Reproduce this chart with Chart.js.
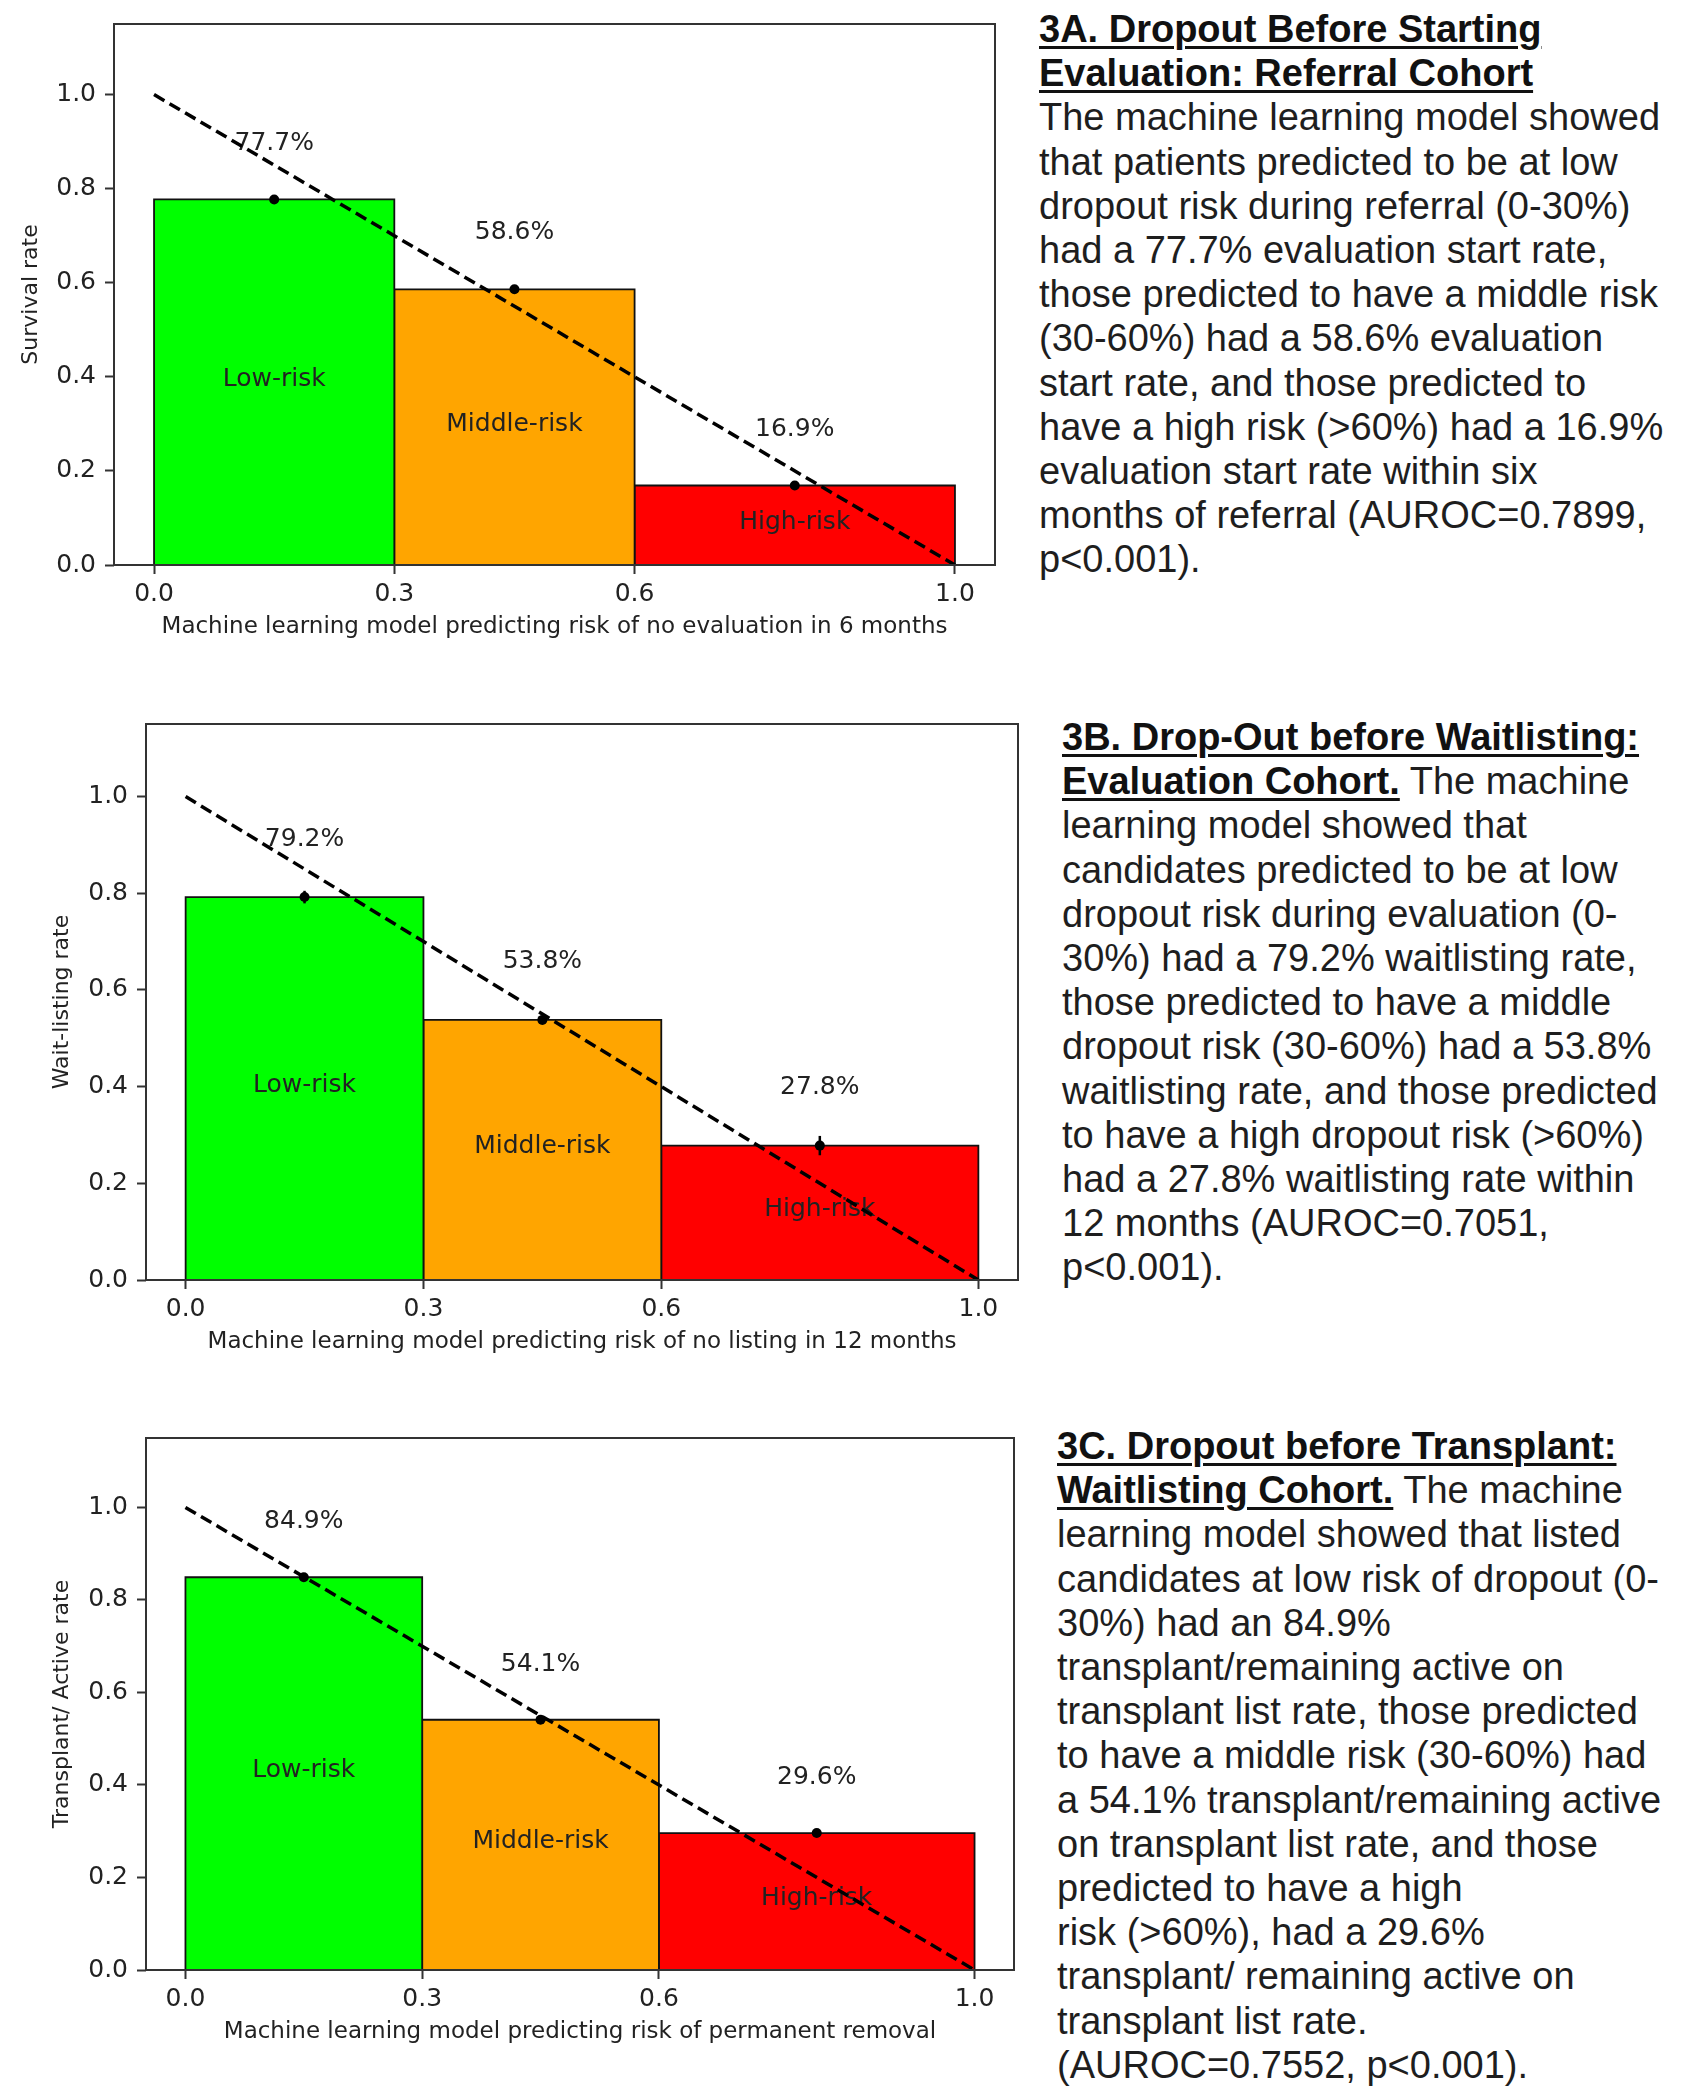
<!DOCTYPE html>
<html>
<head>
<meta charset="utf-8">
<script src="https://cdn.jsdelivr.net/npm/chart.js@4.4.0/dist/chart.umd.min.js"></script>
<style>
  body { margin: 0; background: #fff; width: 1689px; height: 2100px; position: relative; overflow: hidden; }
  .panel { position: absolute; left: 0; }
  .txt { position: absolute; font-family: "Liberation Sans", Arial, sans-serif; font-size: 38px; line-height: 44.2px; color: #1e1e1e; white-space: nowrap; }
  .txt b { font-weight: bold; color: #111; text-decoration: underline; text-decoration-thickness: 3px; text-underline-offset: 4px; }
</style>
</head>
<body>

<div class="panel" style="top:0;width:1020px;height:655px"><canvas id="chartA"></canvas></div>
<div class="panel" style="top:700px;width:1040px;height:670px"><canvas id="chartB"></canvas></div>
<div class="panel" style="top:1410px;width:1040px;height:650px"><canvas id="chartC"></canvas></div>

<div class="txt" style="left:1039px;top:7px">
<b>3A. Dropout Before Starting</b><br>
<b>Evaluation: Referral Cohort</b><br>
The machine learning model showed<br>
that patients predicted to be at low<br>
dropout risk during referral (0-30%)<br>
had a 77.7% evaluation start rate,<br>
those predicted to have a middle risk<br>
(30-60%) had a 58.6% evaluation<br>
start rate, and those predicted to<br>
have a high risk (&gt;60%) had a 16.9%<br>
evaluation start rate within six<br>
months of referral (AUROC=0.7899,<br>
p&lt;0.001).
</div>

<div class="txt" style="left:1062px;top:715px">
<b>3B. Drop-Out before Waitlisting:</b><br>
<b>Evaluation Cohort.</b> The machine<br>
learning model showed that<br>
candidates predicted to be at low<br>
dropout risk during evaluation (0-<br>
30%) had a 79.2% waitlisting rate,<br>
those predicted to have a middle<br>
dropout risk (30-60%) had a 53.8%<br>
waitlisting rate, and those predicted<br>
to have a high dropout risk (&gt;60%)<br>
had a 27.8% waitlisting rate within<br>
12 months (AUROC=0.7051,<br>
p&lt;0.001).
</div>

<div class="txt" style="left:1057px;top:1424px">
<b>3C. Dropout before Transplant:</b><br>
<b>Waitlisting Cohort.</b> The machine<br>
learning model showed that listed<br>
candidates at low risk of dropout (0-<br>
30%) had an 84.9%<br>
transplant/remaining active on<br>
transplant list rate, those predicted<br>
to have a middle risk (30-60%) had<br>
a 54.1% transplant/remaining active<br>
on transplant list rate, and those<br>
predicted to have a high<br>
risk (&gt;60%), had a 29.6%<br>
transplant/ remaining active on<br>
transplant list rate.<br>
(AUROC=0.7552, p&lt;0.001).
</div>

<script>
// --- data ---
const binEdges = [0, 0.3, 0.6, 1.0];
const binCenters = [0.15, 0.45, 0.8];
const riskGroups = ['Low-risk', 'Middle-risk', 'High-risk'];
const groupColors = ['#00ff00', '#ffa500', '#ff0000'];
const xTicks = [0.0, 0.3, 0.6, 1.0];
const yTicks = [0.0, 0.2, 0.4, 0.6, 0.8, 1.0];
const refLine = [{ x: 0, y: 1 }, { x: 1, y: 0 }];

const ratesA = [0.777, 0.586, 0.169];
const errA = [0.006, 0.006, 0.008];
const ratesB = [0.792, 0.538, 0.278];
const errB = [0.013, 0.008, 0.02];
const ratesC = [0.849, 0.541, 0.296];
const errC = [0.006, 0.007, 0.008];

const xTitleA = 'Machine learning model predicting risk of no evaluation in 6 months';
const xTitleB = 'Machine learning model predicting risk of no listing in 12 months';
const xTitleC = 'Machine learning model predicting risk of permanent removal';
const yTitleA = 'Survival rate';
const yTitleB = 'Wait-listing rate';
const yTitleC = 'Transplant/ Active rate';

const FONT = '"DejaVu Sans", sans-serif';
const INK = '#222';

// labels, error bars and frame drawn over the bars
const extrasPlugin = {
    id: 'extras',
    afterDatasetDraw(chart, args) {
        const { ctx, scales: { x, y } } = chart;
        const o = chart.options.plugins.extras;
        if (args.index === 0) {
            ctx.save();
            ctx.fillStyle = INK;
            ctx.font = '25px ' + FONT;
            ctx.textAlign = 'center';
            ctx.textBaseline = 'middle';
            o.rates.forEach((v, i) => {
                const cx = x.getPixelForValue(binCenters[i]);
                ctx.fillText((v * 100).toFixed(1) + '%', cx, y.getPixelForValue(v + 0.12));
                ctx.fillText(riskGroups[i], cx, y.getPixelForValue(v / 2) - 3);
            });
            ctx.restore();
        }
        if (args.index === 3) {
            ctx.save();
            ctx.strokeStyle = '#000';
            ctx.lineWidth = 2.5;
            o.rates.forEach((v, i) => {
                const cx = x.getPixelForValue(binCenters[i]);
                ctx.beginPath();
                ctx.moveTo(cx, y.getPixelForValue(v - o.errs[i]));
                ctx.lineTo(cx, y.getPixelForValue(v + o.errs[i]));
                ctx.stroke();
            });
            ctx.restore();
        }
    },
    afterDatasetsDraw(chart) {
        const { ctx, chartArea: a } = chart;
        ctx.save();
        ctx.strokeStyle = '#333';
        ctx.lineWidth = 2;
        ctx.strokeRect(a.left, a.top, a.right - a.left, a.bottom - a.top);
        ctx.restore();
    }
};

function makeChart(id, rates, errs, xTitle, yTitle, box) {
    const bars = rates.map((v, i) => ({
        data: [
            { x: binEdges[i], y: 0 }, { x: binEdges[i], y: v },
            { x: binEdges[i + 1], y: v }, { x: binEdges[i + 1], y: 0 }
        ],
        borderColor: '#111',
        borderWidth: 1.8,
        backgroundColor: groupColors[i],
        fill: 'origin',
        pointRadius: 0,
        tension: 0,
        borderJoinStyle: 'miter',
        order: 3
    }));
    const datasets = bars.concat([
        {
            data: refLine,
            borderColor: '#000',
            borderWidth: 3.5,
            borderDash: [12, 6],
            pointRadius: 0,
            fill: false,
            order: 2
        },
        {
            data: rates.map((v, i) => ({ x: binCenters[i], y: v })),
            showLine: false,
            pointRadius: 5,
            pointBackgroundColor: '#000',
            pointBorderWidth: 0,
            order: 1
        }
    ]);

    const tickStyle = { color: INK, font: { family: FONT, size: 25 }, callback: v => v.toFixed(1) };
    const gridStyle = { drawOnChartArea: false, drawTicks: true, tickLength: 9, tickWidth: 2, tickColor: '#333' };

    return new Chart(document.getElementById(id), {
        type: 'line',
        data: { datasets },
        plugins: [extrasPlugin],
        options: {
            responsive: true,
            maintainAspectRatio: false,
            animation: false,
            events: [],
            layout: { padding: { left: 0, top: box.top, right: box.right, bottom: 0 } },
            plugins: {
                legend: { display: false },
                tooltip: { enabled: false },
                extras: { rates, errs }
            },
            scales: {
                x: {
                    type: 'linear',
                    min: -0.05,
                    max: 1.05,
                    afterBuildTicks: s => { s.ticks = xTicks.map(v => ({ value: v })); },
                    afterFit: s => { s.height = 90; },
                    ticks: { ...tickStyle, padding: 5, maxRotation: 0 },
                    grid: gridStyle,
                    border: { display: false },
                    title: { display: true, text: xTitle, color: INK, font: { family: FONT, size: 23 }, padding: { top: 0, bottom: 14 } }
                },
                y: {
                    type: 'linear',
                    min: 0,
                    max: 1.15,
                    afterBuildTicks: s => { s.ticks = yTicks.map(v => ({ value: v })); },
                    afterFit: s => { s.width = box.yw; },
                    ticks: { ...tickStyle, padding: 9 },
                    grid: gridStyle,
                    border: { display: false },
                    title: { display: true, text: yTitle, color: INK, font: { family: FONT, size: 22 }, padding: { top: box.yt, bottom: 0 } }
                }
            }
        }
    });
}

makeChart('chartA', ratesA, errA, xTitleA, yTitleA, { top: 24, right: 25, yw: 114, yt: 18 });
makeChart('chartB', ratesB, errB, xTitleB, yTitleB, { top: 22, right: 22, yw: 146, yt: 49 });
makeChart('chartC', ratesC, errC, xTitleC, yTitleC, { top: 28, right: 26, yw: 146, yt: 49 });
</script>
</body>
</html>
